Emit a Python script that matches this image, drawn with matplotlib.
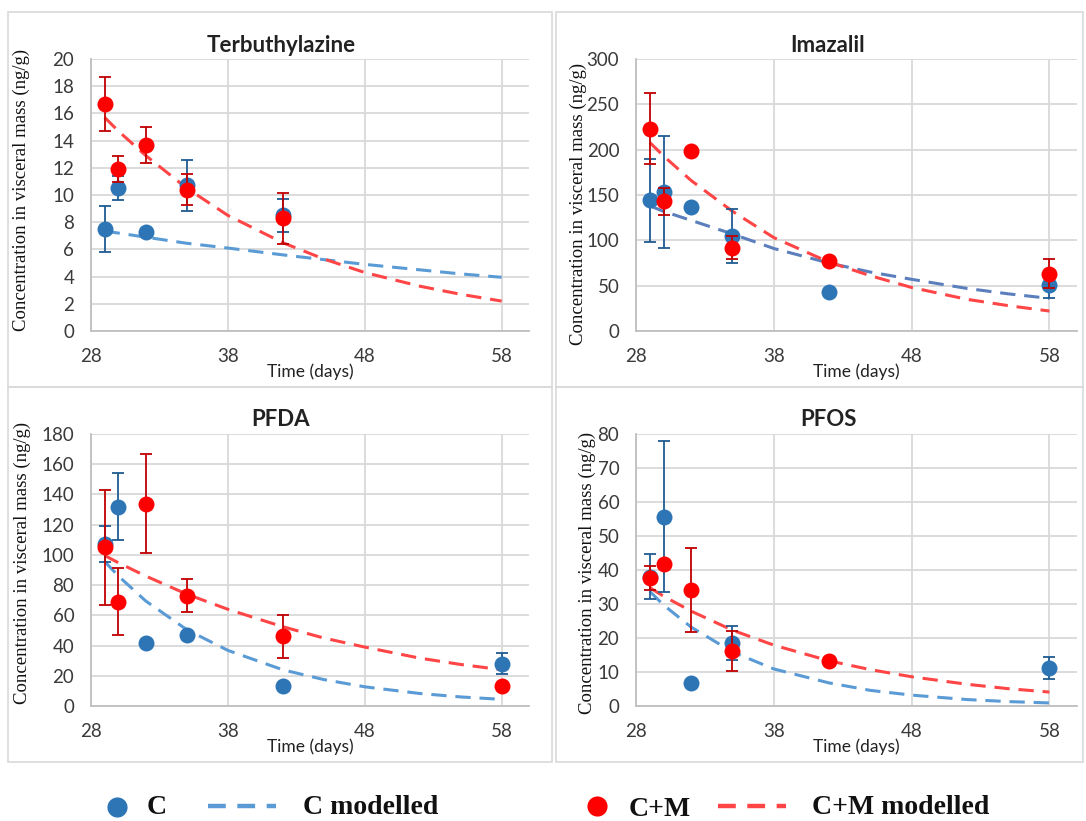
import numpy as np
import matplotlib
matplotlib.use("Agg")
import matplotlib.pyplot as plt
from matplotlib.patches import Rectangle
from matplotlib.lines import Line2D

# ---------------- data ----------------
model_days = [29, 30, 32, 35, 38, 42, 45, 48, 52, 55, 58]

terb_c_days = [29, 30, 32, 35, 42]
terb_c = [7.5, 10.5, 7.3, 10.7, 8.5]
terb_c_err = [1.7, 0.9, 0, 1.9, 1.2]
terb_cm_days = [29, 30, 32, 35, 42]
terb_cm = [16.7, 11.9, 13.7, 10.4, 8.3]
terb_cm_err = [2.0, 0.95, 1.33, 1.15, 1.87]
terb_c_model = [7.35, 7.2, 6.9, 6.45, 6.1, 5.6, 5.25, 4.9, 4.5, 4.2, 3.95]
terb_cm_model = [15.7, 14.7, 12.9, 10.5, 8.5, 6.5, 5.3, 4.3, 3.3, 2.7, 2.2]

imaz_c_days = [29, 30, 32, 35, 42, 58]
imaz_c = [144, 153, 137, 105, 43, 51]
imaz_c_err = [46, 62, 0, 30, 0, 15]
imaz_cm_days = [29, 30, 32, 35, 42, 58]
imaz_cm = [223, 143, 199, 92, 77, 63]
imaz_cm_err = [39, 15, 0, 12.5, 0, 16]
imaz_c_model = [138, 132, 122, 107, 91, 75, 65, 57, 47, 41, 36]
imaz_cm_model = [208, 193, 166, 132, 103, 76, 61, 48, 35, 28, 22]

pfda_c_days = [29, 30, 32, 35, 42, 58]
pfda_c = [107, 132, 41.5, 47, 13.5, 28]
pfda_c_err = [12, 22, 0, 0, 0, 7]
pfda_cm_days = [29, 30, 32, 35, 42, 58]
pfda_cm = [105, 69, 134, 73, 46, 13.5]
pfda_cm_err = [38, 22, 33, 11, 14, 0]
pfda_c_model = [95.6, 86, 69.5, 50.5, 36.8, 24, 17.5, 12.7, 8.3, 6.0, 4.4]
pfda_cm_model = [99.6, 94.8, 86, 74, 64, 52.5, 45, 39, 31.7, 27.5, 24]

pfos_c_days = [29, 30, 32, 35, 58]
pfos_c = [38, 55.7, 6.9, 18.4, 11.1]
pfos_c_err = [6.6, 22.2, 0, 5, 3.2]
pfos_cm_days = [29, 30, 32, 35, 42]
pfos_cm = [37.6, 41.8, 34.1, 16.2, 13.1]
pfos_cm_err = [3.5, 0, 12.3, 5.9, 0]
pfos_c_model = [33.7, 29.7, 23.2, 15.9, 10.9, 6.8, 4.6, 3.2, 1.9, 1.3, 0.9]
pfos_cm_model = [34.8, 32.3, 27.9, 22.3, 17.9, 13.3, 10.7, 8.6, 6.4, 5.1, 4.1]

titles = ["Terbuthylazine", "Imazalil", "PFDA", "PFOS"]
x_ticks = [28, 38, 48, 58]

# ---------------- styling ----------------
W, H = 1086, 821
C_DOT = "#2E75B6"
C_ERR = "#1F5B92"
C_LINE = "#5B9BD5"
CM_DOT = "#FF0000"
CM_ERR = "#C00000"
CM_LINE = "#FF4545"
GRID = "#D9D9D9"
TICK_FONT = "Lato"
SERIF = "Liberation Serif"


def fx(x):
    return x / W


def fy(y):
    return 1 - y / H


fig = plt.figure(figsize=(W / 100, H / 100), dpi=100)
fig.patch.set_facecolor("white")

# panel frames
for (x0, y0, x1, y1) in [(8, 12, 552, 387), (556, 12, 1083, 387),
                         (8, 387, 552, 762), (556, 387, 1083, 762)]:
    fig.patches.append(Rectangle((fx(x0), fy(y1)), fx(x1 - x0), (y1 - y0) / H,
                                 transform=fig.transFigure, fill=False,
                                 edgecolor="#D9D9D9", linewidth=1.2, zorder=0))

panels = [
    dict(rect=(91, 59, 529, 331), ylim=20, ystep=2, title_xy=(281, 45),
         ylab=(-0.139, 0.517), line_c=C_LINE,
         c=(terb_c_days, terb_c, terb_c_err), cm=(terb_cm_days, terb_cm, terb_cm_err),
         cmod=terb_c_model, cmmod=terb_cm_model),
    dict(rect=(636, 59, 1077, 331), ylim=300, ystep=50, title_xy=(828, 45),
         ylab=(-0.111, 0.467), line_c="#5B7FBD",
         c=(imaz_c_days, imaz_c, imaz_c_err), cm=(imaz_cm_days, imaz_cm, imaz_cm_err),
         cmod=imaz_c_model, cmmod=imaz_cm_model),
    dict(rect=(91, 434, 529, 706), ylim=180, ystep=20, title_xy=(281, 420),
         ylab=(-0.137, 0.526), line_c=C_LINE,
         c=(pfda_c_days, pfda_c, pfda_c_err), cm=(pfda_cm_days, pfda_cm, pfda_cm_err),
         cmod=pfda_c_model, cmmod=pfda_cm_model),
    dict(rect=(636, 434, 1077, 706), ylim=80, ystep=10, title_xy=(828, 420),
         ylab=(-0.091, 0.49), line_c=C_LINE,
         c=(pfos_c_days, pfos_c, pfos_c_err), cm=(pfos_cm_days, pfos_cm, pfos_cm_err),
         cmod=pfos_c_model, cmmod=pfos_cm_model),
]

dash = (0, (5.0, 2.9))

for p, title in zip(panels, titles):
    x0, y0, x1, y1 = p["rect"]
    ax = fig.add_axes([fx(x0), fy(y1), (x1 - x0) / W, (y1 - y0) / H])
    ax.set_xlim(28, 60)
    ax.set_ylim(0, p["ylim"])
    ax.set_xticks(x_ticks)
    ax.set_yticks(np.arange(0, p["ylim"] + p["ystep"] / 2, p["ystep"]))
    ax.grid(True, color=GRID, linewidth=1.3, zorder=0)
    ax.set_axisbelow(True)
    for s in ["top", "right"]:
        ax.spines[s].set_visible(False)
    for s in ["left", "bottom"]:
        ax.spines[s].set_color("#BFBFBF")
        ax.spines[s].set_linewidth(1.3)
    ax.tick_params(length=0, labelsize=13.5, colors="#3A3A3A", pad=12)
    for lab in ax.get_xticklabels() + ax.get_yticklabels():
        lab.set_family(TICK_FONT)

    # modelled curves
    ax.plot(model_days, p["cmod"], color=p["line_c"], lw=2.2, linestyle=dash,
            zorder=3, dash_capstyle="butt")
    ax.plot(model_days, p["cmmod"], color=CM_LINE, lw=2.2, linestyle=dash,
            zorder=3, dash_capstyle="butt")

    # measured points with error bars
    for (d, v, e), dot, err, z in [(p["c"], C_DOT, C_ERR, 4), (p["cm"], CM_DOT, CM_ERR, 6)]:
        d = np.asarray(d, float)
        v = np.asarray(v, float)
        e = np.asarray(e, float)
        m = e > 0
        ax.errorbar(d[m], v[m], yerr=e[m], fmt="none", ecolor=err, elinewidth=1.3,
                    capsize=4, capthick=1.3, zorder=z)
        ax.plot(d, v, "o", color=dot, markersize=11.5, markeredgewidth=0, zorder=z + 1)

    ax.set_xlabel("Time (days)", family=TICK_FONT, fontsize=12.5, color="#222222")
    ax.xaxis.set_label_coords(0.5, -0.118)
    ax.set_ylabel("Concentration in visceral mass (ng/g)", family=SERIF,
                  fontsize=13.5, color="#111111")
    ax.yaxis.set_label_coords(*p["ylab"])

    tx, ty = p["title_xy"]
    fig.text(fx(tx), fy(ty), title, family=TICK_FONT, weight="bold", fontsize=16,
             color="#222222", ha="center", va="center")

# ---------------- legend ----------------
LEG = dict(family=SERIF, weight="bold", fontsize=20, color="#111111", va="center")
fig.add_artist(Line2D([fx(117)], [fy(807)], marker="o", markersize=14.5, color=C_DOT,
                      markeredgewidth=0, transform=fig.transFigure))
fig.text(fx(147), fy(807), "C", **LEG)
fig.add_artist(Line2D([fx(208), fx(276)], [fy(806), fy(806)], color=C_LINE, lw=3.2,
                      linestyle=(0, (4.0, 2.6)), transform=fig.transFigure))
fig.text(fx(303), fy(807), "C modelled", **LEG)
fig.add_artist(Line2D([fx(597)], [fy(806)], marker="o", markersize=14.5, color=CM_DOT,
                      markeredgewidth=0, transform=fig.transFigure))
fig.text(fx(629), fy(809), "C+M", **LEG)
fig.add_artist(Line2D([fx(718), fx(786)], [fy(806), fy(806)], color=CM_LINE, lw=3.2,
                      linestyle=(0, (4.0, 2.6)), transform=fig.transFigure))
fig.text(fx(812), fy(807), "C+M modelled", **LEG)

fig.savefig("out.png", dpi=100, facecolor="white")
